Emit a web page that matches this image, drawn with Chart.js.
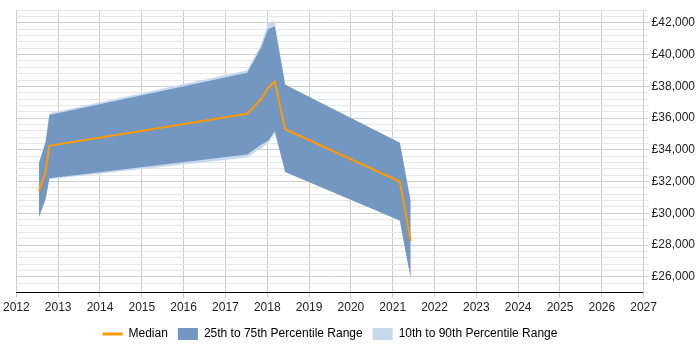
<!DOCTYPE html>
<html lang="en">
<head>
    <meta charset="UTF-8">
    <title>Salary trend</title>
    <script src="https://cdn.jsdelivr.net/npm/chart.js@4.4.0/dist/chart.umd.min.js"></script>
    <style>
        html, body { margin: 0; padding: 0; background: #fff; }
        #wrap { width: 700px; height: 350px; position: relative; }
    </style>
</head>
<body>
    <div id="wrap"><canvas id="salaryChart"></canvas></div>

    <script>
        // data (x = decimal year)
        var years  = [2012.54, 2012.70, 2012.79, 2017.52, 2017.86, 2018.02, 2018.18, 2018.43, 2021.17, 2021.43];
        var median = [31400, 32650, 34250, 36270, 37200, 37900, 38300, 35300, 32000, 28250];
        var p75    = [33150, 34500, 36200, 38860, 40480, 41620, 41770, 38100, 34450, 30750];
        var p25    = [29750, 30900, 32200, 33700, 34330, 34560, 35190, 32600, 29550, 25900];
        var p90    = [33150, 34500, 36300, 39020, 40690, 42040, 42100, 38100, 34450, 30750];
        var p10    = [29750, 30900, 32150, 33520, 34120, 34430, 35000, 32600, 29550, 25900];
        var xTicks = [2012, 2027];
        var yTicks = [25000, 42800];

        var orange = '#ff9900';
        var dark = 'rgb(115, 151, 193)';
        var light = 'rgb(200, 217, 238)';

        function pts(arr) {
            return arr.map(function (v, i) { return { x: years[i], y: v }; });
        }

        var band = { borderWidth: 0, pointRadius: 0, tension: 0 };

        // legend sits centred under the plot area, not the whole canvas
        var shiftLegend = {
            id: 'shiftLegend',
            afterLayout: function (chart) {
                var lg = chart.legend;
                if (!lg) return;
                var d = (chart.chartArea.left + chart.chartArea.right) / 2 - (lg.left + lg.right) / 2;
                lg.left += d;
                lg.right += d;
            }
        };

        new Chart(document.getElementById('salaryChart'), {
            type: 'line',
            data: {
                datasets: [
                    { label: 'Median', data: pts(median), borderColor: orange, borderWidth: 2, pointRadius: 0, fill: false },
                    Object.assign({ label: '25th to 75th Percentile Range', data: pts(p75), backgroundColor: dark, fill: '+1' }, band),
                    Object.assign({ label: 'p25', data: pts(p25), fill: false }, band),
                    Object.assign({ label: '10th to 90th Percentile Range', data: pts(p90), backgroundColor: light, fill: '+1' }, band),
                    Object.assign({ label: 'p10', data: pts(p10), fill: false }, band)
                ]
            },
            plugins: [shiftLegend],
            options: {
                responsive: true,
                maintainAspectRatio: false,
                animation: false,
                layout: { padding: { left: 3, right: 2, top: 5, bottom: 0 } },
                font: { family: '"Liberation Sans", Arial, sans-serif' },
                plugins: {
                    tooltip: { enabled: false },
                    legend: {
                        position: 'bottom',
                        labels: {
                            usePointStyle: true,
                            pointStyleWidth: 20,
                            boxHeight: 12,
                            padding: 10,
                            color: '#222',
                            font: { size: 12, family: '"Liberation Sans", Arial, sans-serif' },
                            generateLabels: function () {
                                return [
                                    { text: 'Median', fillStyle: orange, strokeStyle: orange, lineWidth: 3, pointStyle: 'line', datasetIndex: 0 },
                                    { text: '25th to 75th Percentile Range', fillStyle: dark, strokeStyle: dark, lineWidth: 0, pointStyle: 'rect', datasetIndex: 1 },
                                    { text: '10th to 90th Percentile Range', fillStyle: light, strokeStyle: light, lineWidth: 0, pointStyle: 'rect', datasetIndex: 3 }
                                ];
                            }
                        }
                    }
                },
                scales: {
                    x: {
                        type: 'linear',
                        min: xTicks[0],
                        max: xTicks[1],
                        ticks: {
                            stepSize: 1,
                            color: '#222',
                            maxRotation: 0,
                            font: { size: 12, family: '"Liberation Sans", Arial, sans-serif' },
                            callback: function (v) { return String(v); }
                        },
                        grid: { color: '#cccccc', tickLength: 5 },
                        border: { color: '#000', width: 1 }
                    },
                    y: {
                        position: 'right',
                        min: yTicks[0],
                        max: yTicks[1],
                        ticks: {
                            stepSize: 400,
                            autoSkip: false,
                            color: '#222',
                            font: { size: 12, family: '"Liberation Sans", Arial, sans-serif' },
                            callback: function (v) {
                                return v % 2000 === 0 ? '£' + v.toLocaleString('en-GB') : '';
                            }
                        },
                        grid: {
                            tickLength: 5,
                            color: function (c) {
                                return c.tick && c.tick.value % 2000 === 0 ? '#cfcfcf' : '#e6e6e6';
                            }
                        },
                        border: { color: '#cccccc' }
                    }
                }
            }
        });
    </script>
</body>
</html>
